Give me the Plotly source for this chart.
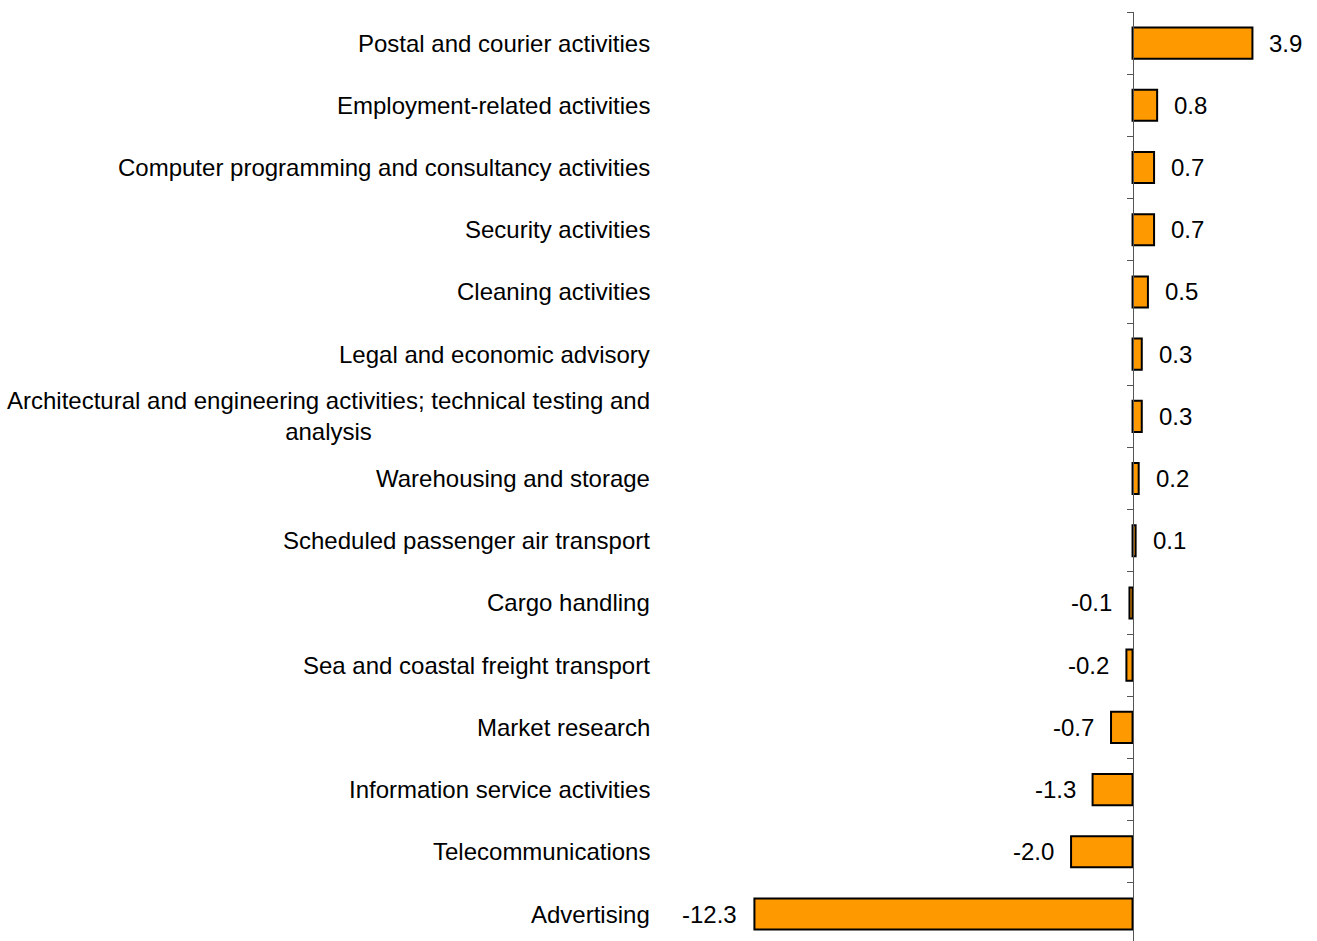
import plotly.graph_objects as go

categories = [
    "Postal and courier activities",
    "Employment-related activities",
    "Computer programming and consultancy activities",
    "Security activities",
    "Cleaning activities",
    "Legal and economic advisory",
    "Architectural and engineering activities; technical testing and<br>analysis",
    "Warehousing and storage",
    "Scheduled passenger air transport",
    "Cargo handling",
    "Sea and coastal freight transport",
    "Market research",
    "Information service activities",
    "Telecommunications",
    "Advertising",
]
values = [3.9, 0.8, 0.7, 0.7, 0.5, 0.3, 0.3, 0.2, 0.1, -0.1, -0.2, -0.7, -1.3, -2.0, -12.3]

FONT = "Liberation Sans, Arial, sans-serif"
FS = 24
W, H = 1317, 941
x_range = [-36.84, 6.0]
zero_pos = (0 - x_range[0]) / (x_range[1] - x_range[0])

fig = go.Figure()
fig.add_trace(go.Bar(
    y=categories, x=values, orientation="h", width=0.5,
    marker=dict(color="#FF9900", line=dict(color="#000000", width=2)),
    hoverinfo="skip",
))

annotations = []
for c, v in zip(categories, values):
    annotations.append(dict(
        x=v, y=c, xref="x", yref="y", text=f"{v:.1f}", showarrow=False,
        xanchor="left" if v >= 0 else "right", xshift=15 if v >= 0 else -15,
        font=dict(family=FONT, size=FS, color="#000000"),
    ))
    annotations.append(dict(
        x=652 / W, y=c, xref="paper", yref="y", text=c, showarrow=False,
        xanchor="right", align="center",
        font=dict(family=FONT, size=FS, color="#000000"),
    ))

fig.update_layout(
    width=W, height=H,
    margin=dict(l=0, r=0, t=12, b=0, pad=0),
    plot_bgcolor="white", paper_bgcolor="white",
    showlegend=False,
    annotations=annotations,
    xaxis=dict(range=x_range, showgrid=False, zeroline=False, showticklabels=False,
               showline=False, ticks="", fixedrange=True),
    yaxis=dict(type="category", categoryorder="array", categoryarray=categories,
               range=[14.434, -0.5], anchor="free", position=zero_pos,
               showgrid=False, zeroline=False, showticklabels=False,
               showline=True, linecolor="#555555", linewidth=1,
               ticks="outside", ticklen=6, tickcolor="#555555", tickwidth=1,
               tickson="boundaries", fixedrange=True),
)

fig.write_html("out.html", config={"displayModeBar": False},
               post_script="document.body.style.margin='0';document.body.style.overflow='hidden';")
